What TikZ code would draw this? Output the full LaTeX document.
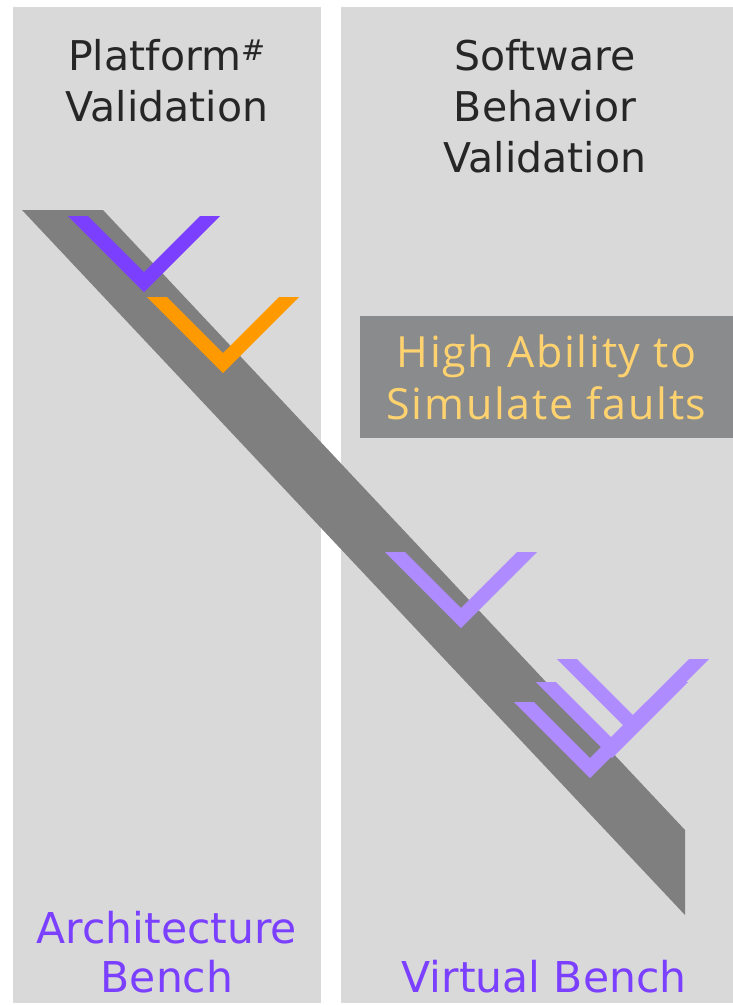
\documentclass[tikz,border=0pt]{standalone}
\usepackage{fontspec}
\setmainfont{DejaVu Sans}
\newfontfamily\boxfont[LetterSpace=4]{Open Sans}
\usepackage{tikz}
\definecolor{panelgray}{HTML}{D9D9D9}
\definecolor{bandgray}{HTML}{7F7F7F}
\definecolor{boxgray}{HTML}{898B8C}
\definecolor{boxtext}{HTML}{FFD270}
\definecolor{titletext}{HTML}{262626}
\definecolor{vpurple}{HTML}{7B3FFF}
\definecolor{vlight}{HTML}{AE8CFF}
\definecolor{vorange}{HTML}{FF9900}

\begin{document}
\begin{tikzpicture}[x=1pt, y=-1pt,
		title/.style={align=center, inner sep=0, anchor=base, text=titletext, font=\fontsize{41}{51}\selectfont},
		bench/.style={align=center, inner sep=0, anchor=base, text=vpurple, font=\fontsize{42.5}{49}\selectfont}]
		\useasboundingbox (0,0) rectangle (733,1005);
		\fill[panelgray] (13,7) rectangle (321,1003);
		\fill[panelgray] (341,7) rectangle (733,1003);
		\fill[bandgray] (22,210) -- (103,210) -- (685,830) -- (685,915) -- cycle;
		\fill[vpurple] (68,216) -- (88,216) -- (144,272) -- (200,216) -- (220,216) -- (144,292) -- cycle;
		\fill[vorange] (147,297) -- (167,297) -- (223,353) -- (279,297) -- (299,297) -- (223,373) -- cycle;
		\foreach \cx/\ty in {461/552, 633/659, 612/682, 590/702}
			\fill[vlight] (\cx-76,\ty) -- (\cx-56,\ty) -- (\cx,\ty+56) -- (\cx+56,\ty) -- (\cx+76,\ty) -- (\cx,\ty+76) -- cycle;
		\node[title] (platform) at (167,121) {Platform\textsuperscript{\#}\\Validation};
		\node[title] (software) at (545,172) {Software\\Behavior\\Validation};
		\node[fill=boxgray, minimum width=373, minimum height=122, inner sep=0, text=boxtext, align=center,
			font=\boxfont\fontsize{43}{52}\selectfont] (faults) at (546.5,377) {High Ability to\\Simulate faults};
		\node[bench] (archbench) at (167,992) {Architecture\\Bench};
		\node[bench] (virtbench) at (544,992) {Virtual Bench};
\end{tikzpicture}
\end{document}
